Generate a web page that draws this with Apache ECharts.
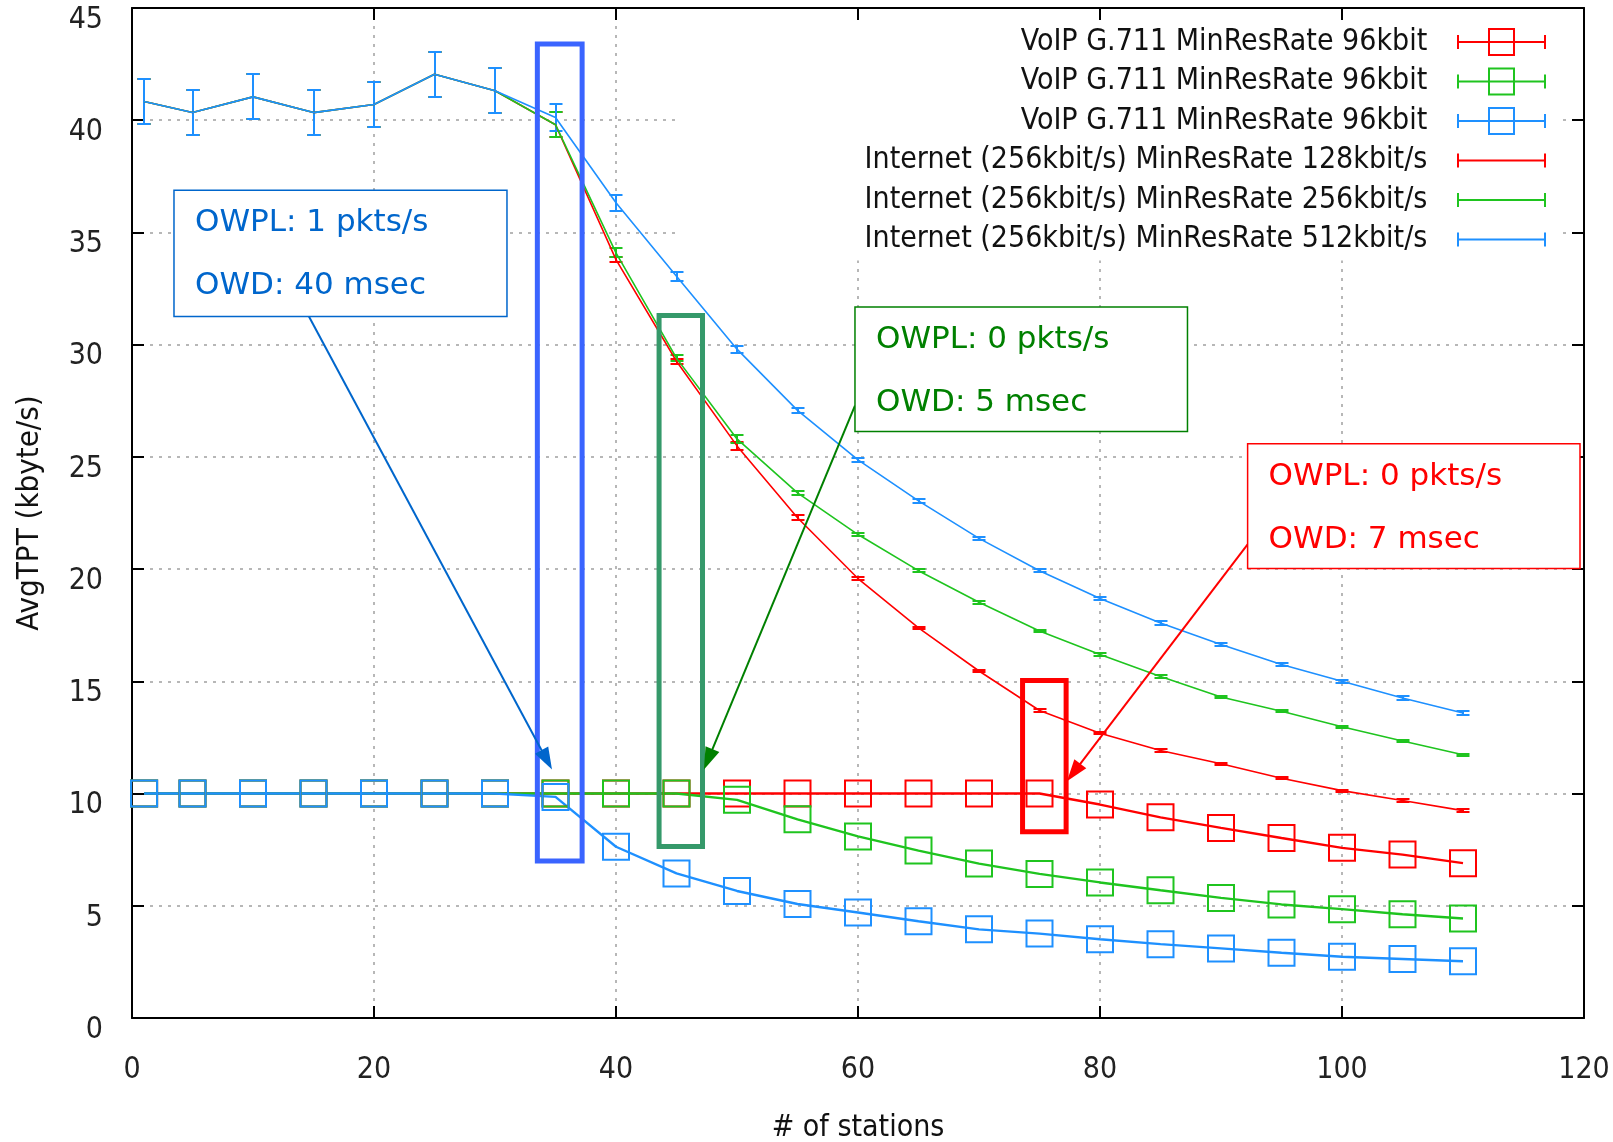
<!DOCTYPE html>
<html><head><meta charset="utf-8">
<script src="https://cdn.jsdelivr.net/npm/echarts@6/dist/echarts.min.js"></script>
<style>html,body{margin:0;padding:0;background:#fff;overflow:hidden}#c{width:1613px;height:1142px}</style>
</head><body><div id="c"></div>
<script>
// ---------- data ----------
const stations = [1,5,10,15,20,25,30,35,40,45,50,55,60,65,70,75,80,85,90,95,100,105,110];
const voipRed   = [10,10,10,10,10,10,10,10,10,10,10,10,10,10,10,10,9.51,8.94,8.47,8.02,7.58,7.28,6.9];
const voipGreen = [10,10,10,10,10,10,10,10,10,10,9.72,8.85,8.09,7.46,6.88,6.42,6.04,5.69,5.35,5.06,4.85,4.62,4.43];
const voipBlue  = [10,10,10,10,10,10,10,9.85,7.63,6.44,5.66,5.08,4.7,4.31,3.95,3.76,3.51,3.29,3.1,2.91,2.73,2.63,2.53];
const inetRed   = [40.83,40.34,41.04,40.34,40.7,42.05,41.31,39.8,33.79,29.26,25.49,22.29,19.58,17.38,15.46,13.7,12.69,11.92,11.33,10.68,10.13,9.69,9.24];
const inetRedErr   = [1.0,1.0,1.0,1.0,1.0,1.0,1.0,0.55,0.12,0.1,0.17,0.12,0.08,0.06,0.06,0.06,0.05,0.05,0.05,0.05,0.05,0.05,0.05];
const inetGreen = [40.83,40.34,41.04,40.34,40.7,42.05,41.31,39.8,34.09,29.4,25.8,23.4,21.54,19.93,18.52,17.24,16.2,15.22,14.3,13.67,12.98,12.34,11.73];
const inetGreenErr = [1.0,1.0,1.0,1.0,1.0,1.0,1.0,0.55,0.2,0.12,0.17,0.1,0.08,0.06,0.06,0.06,0.05,0.05,0.05,0.05,0.05,0.05,0.05];
const inetBlue  = [40.83,40.34,41.04,40.34,40.7,42.05,41.31,40.12,36.32,33.05,29.8,27.07,24.87,23.04,21.37,19.93,18.69,17.6,16.64,15.75,15.0,14.26,13.59];
const inetBlueErr  = [1.0,1.0,1.0,1.0,1.0,1.0,1.0,0.6,0.37,0.2,0.15,0.12,0.1,0.08,0.08,0.08,0.08,0.1,0.08,0.08,0.08,0.08,0.08];
const seriesNames = [
  'VoIP G.711 MinResRate 96kbit',
  'VoIP G.711 MinResRate 96kbit\u200b',
  'VoIP G.711 MinResRate 96kbit\u200b\u200b',
  'Internet (256kbit/s) MinResRate 128kbit/s',
  'Internet (256kbit/s) MinResRate 256kbit/s',
  'Internet (256kbit/s) MinResRate 512kbit/s'
];
const xTitle = '# of stations';
const yTitle = 'AvgTPT (kbyte/s)';
const calloutTexts = [
  ['OWPL: 1 pkts/s', 'OWD: 40 msec'],
  ['OWPL: 0 pkts/s', 'OWD: 5 msec'],
  ['OWPL: 0 pkts/s', 'OWD: 7 msec']
];

// ---------- styles ----------
const RED = '#ff0000', GREEN = '#1fc41f', BLUE = '#1e90ff';
const GFONT = "'Liberation Sans Narrow','DejaVu Sans Condensed','Liberation Sans',sans-serif";
const CFONT = "'DejaVu Sans',Verdana,sans-serif";

const pairs = v => stations.map((x, i) => [x, v[i]]);
const errs = (v, e) => stations.map((x, i) => [x, v[i] - e[i], v[i] + e[i]]);

function voipSeries(name, vals, color) {
  return {
    name, type: 'line', data: pairs(vals), symbol: 'rect', symbolSize: 26, showAllSymbol: true,
    itemStyle: { color: 'rgba(0,0,0,0)', borderColor: color, borderWidth: 2 },
    lineStyle: { color, width: 2.4 }, emphasis: { disabled: true }, animation: false, z: 3
  };
}
function inetSeries(name, vals, color) {
  return {
    name, type: 'line', data: pairs(vals), symbol: 'none',
    lineStyle: { color, width: 1.6 }, emphasis: { disabled: true }, animation: false, z: 3
  };
}
function errSeries(name, vals, e, color) {
  return {
    name, type: 'custom', data: errs(vals, e), encode: { x: 0, y: [1, 2] }, animation: false, z: 3,
    renderItem: (params, api) => {
      const x = api.value(0);
      const lo = api.coord([x, api.value(1)]);
      const hi = api.coord([x, api.value(2)]);
      const cx = Math.round(lo[0]), ly = Math.round(lo[1]), hy = Math.round(hi[1]);
      const w = 6.5;
      const st = { stroke: color, lineWidth: 2 };
      return { type: 'group', children: [
        { type: 'line', shape: { x1: cx, y1: ly, x2: cx, y2: hy }, style: st },
        { type: 'line', shape: { x1: cx - w, y1: ly, x2: cx + w, y2: ly }, style: st },
        { type: 'line', shape: { x1: cx - w, y1: hy, x2: cx + w, y2: hy }, style: st }
      ]};
    }
  };
}

const voipIcon = 'path://M0,13L87,13M0,6L0,20M87,6L87,20M31,0L56,0L56,26L31,26Z';
const inetIcon = 'path://M0,0M0,26M0,13L87,13M0,6L0,20M87,6L87,20';
const legendColors = [RED, GREEN, BLUE, RED, GREEN, BLUE];

const chart = echarts.init(document.getElementById('c'), null, { renderer: 'canvas' });

const axisLineStyle = { color: '#000', width: 2 };
const splitStyle = { color: '#a0a0a0', width: 1.5, type: [3, 6] };

chart.setOption({
  animation: false,
  backgroundColor: '#fff',
  grid: { left: 132, right: 29, top: 8, bottom: 124, containLabel: false, outerBoundsMode: 'none' },
  legend: {
    orient: 'vertical', align: 'right', right: 52, top: 9,
    padding: [18, 15, 6, 184], backgroundColor: '#fff',
    itemWidth: 87, itemHeight: 26, itemGap: 9.5, selectedMode: false,
    formatter: n => n.replace(/\u200b/g, '') + '   ',
    textStyle: { fontFamily: GFONT, fontSize: 30, color: '#111', lineHeight: 30 },
    data: seriesNames.map((n, i) => ({
      name: n, icon: i < 3 ? voipIcon : inetIcon,
      itemStyle: { color: 'rgba(0,0,0,0)', borderColor: legendColors[i], borderWidth: 2 }
    }))
  },
  xAxis: [{
    type: 'value', min: 0, max: 120, interval: 20,
    name: xTitle, nameLocation: 'middle', nameGap: 95,
    nameTextStyle: { fontFamily: GFONT, fontSize: 30, color: '#111' },
    axisLine: { show: true, onZero: false, lineStyle: axisLineStyle },
    axisTick: { show: true, inside: true, length: 12, lineStyle: axisLineStyle },
    axisLabel: { margin: 37, fontFamily: GFONT, fontSize: 30, color: '#222' },
    splitLine: { show: true, lineStyle: splitStyle }
  }, {
    type: 'value', min: 0, max: 120, interval: 20, position: 'top', z: 10,
    axisLine: { show: true, onZero: false, lineStyle: axisLineStyle },
    axisTick: { show: true, inside: true, length: 12, lineStyle: axisLineStyle },
    axisLabel: { show: false }, splitLine: { show: false }
  }],
  yAxis: [{
    type: 'value', min: 0, max: 45, interval: 5,
    name: yTitle, nameLocation: 'middle', nameGap: 87,
    nameTextStyle: { fontFamily: GFONT, fontSize: 31, color: '#111' },
    axisLine: { show: true, onZero: false, lineStyle: axisLineStyle },
    axisTick: { show: true, inside: true, length: 12, lineStyle: axisLineStyle },
    axisLabel: { margin: 29, fontFamily: GFONT, fontSize: 30, color: '#222', verticalAlign: 'top', lineHeight: 24 },
    splitLine: { show: true, lineStyle: splitStyle }
  }, {
    type: 'value', min: 0, max: 45, interval: 5, position: 'right', z: 10,
    axisLine: { show: true, onZero: false, lineStyle: axisLineStyle },
    axisTick: { show: true, inside: true, length: 12, lineStyle: axisLineStyle },
    axisLabel: { show: false }, splitLine: { show: false }
  }],
  series: [
    voipSeries(seriesNames[0], voipRed, RED),
    voipSeries(seriesNames[1], voipGreen, GREEN),
    voipSeries(seriesNames[2], voipBlue, BLUE),
    inetSeries(seriesNames[3], inetRed, RED),
    errSeries('err128', inetRed, inetRedErr, RED),
    inetSeries(seriesNames[4], inetGreen, GREEN),
    errSeries('err256', inetGreen, inetGreenErr, GREEN),
    inetSeries(seriesNames[5], inetBlue, BLUE),
    errSeries('err512', inetBlue, inetBlueErr, BLUE)
  ]
});

// ---------- annotations (anchored in data coordinates) ----------
const highlightBoxes = [
  { color: '#3a64ff', x0: 33.5, x1: 37.2, y0: 6.99, y1: 43.4 },
  { color: '#35996a', x0: 43.56, x1: 47.15, y0: 7.64, y1: 31.3 },
  { color: '#ff0000', x0: 73.6, x1: 77.2, y0: 8.3, y1: 15.04 }
];
const callouts = [
  { color: '#0066cc', x0: 3.47, x1: 30.99, yTop: 36.88, yBot: 31.26, from: [14.59, 31.29], to: [34.71, 11.07] },
  { color: '#008000', x0: 59.75, x1: 87.23, yTop: 31.68, yBot: 26.13, from: [59.75, 27.28], to: [47.27, 11.07] },
  { color: '#ff0000', x0: 92.2, x1: 119.67, yTop: 25.58, yBot: 20.03, from: [92.2, 21.1], to: [77.27, 10.55] }
];
const px = (x, y) => chart.convertToPixel({ xAxisIndex: 0, yAxisIndex: 0 }, [x, y]);
const g = [];
highlightBoxes.forEach(b => {
  const a = px(b.x0, b.y1), c = px(b.x1, b.y0);
  g.push({ type: 'rect', z: 100, shape: { x: a[0], y: a[1], width: c[0] - a[0], height: c[1] - a[1] },
    style: { fill: 'none', stroke: b.color, lineWidth: 5 } });
});
callouts.forEach((c, i) => {
  const s = px(c.from[0], c.from[1]), t = px(c.to[0], c.to[1]);
  const dx = t[0] - s[0], dy = t[1] - s[1], L = Math.hypot(dx, dy);
  const ux = dx / L, uy = dy / L, hl = 22, hw = 7.5;
  const bx = t[0] - ux * hl, by = t[1] - uy * hl;
  g.push({ type: 'line', z: 100, shape: { x1: s[0], y1: s[1], x2: bx + ux * 2, y2: by + uy * 2 },
    style: { stroke: c.color, lineWidth: 2 } });
  g.push({ type: 'polygon', z: 100, shape: { points: [[t[0], t[1]], [bx - uy * hw, by + ux * hw], [bx + uy * hw, by - ux * hw]] },
    style: { fill: c.color } });
  const a = px(c.x0, c.yTop), b = px(c.x1, c.yBot);
  g.push({ type: 'rect', z: 101, shape: { x: a[0], y: a[1], width: b[0] - a[0], height: b[1] - a[1] },
    style: { fill: '#fff', stroke: c.color, lineWidth: 1.5 } });
  calloutTexts[i].forEach((txt, k) => {
    g.push({ type: 'text', z: 102, x: a[0] + 21, y: a[1] + (k === 0 ? 33 : 96),
      style: { text: txt, fill: c.color, font: '31px ' + CFONT, textVerticalAlign: 'middle', textAlign: 'left' } });
  });
});
chart.setOption({ graphic: { elements: g } });
</script>
</body></html>
